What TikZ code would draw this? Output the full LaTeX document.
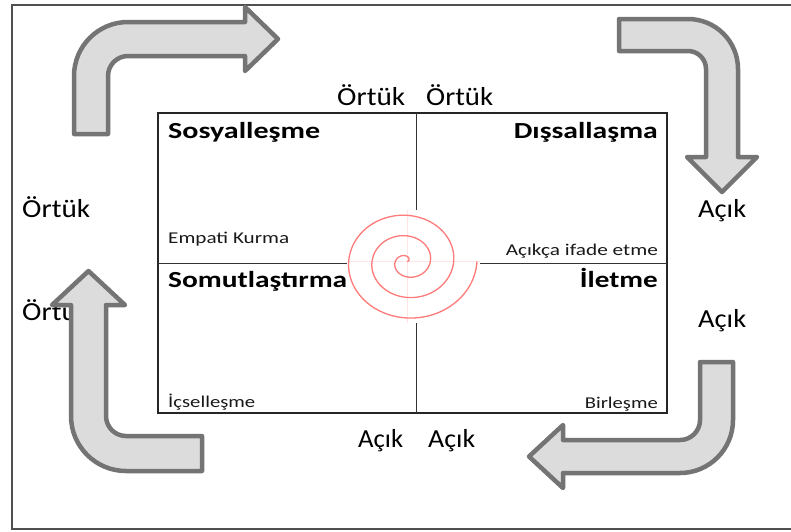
\documentclass[tikz,border=0pt]{standalone}
\usepackage{fontspec}
\usepackage{graphicx}
\setmainfont{Carlito}
\definecolor{framegray}{HTML}{505050}
\definecolor{arrowfill}{HTML}{DCDCDC}
\definecolor{arrowline}{HTML}{747474}
\definecolor{spiralred}{HTML}{FF7A7A}
\definecolor{spiralaxis}{HTML}{FFE6E6}
% stretch a text horizontally to a given width, keeping its height
\newcommand\fitw[2]{\resizebox{#1}{\height}{#2}}
\tikzset{
  bigarrow/.style={fill=arrowfill, draw=arrowline, line width=4.5pt, line join=round},
  sidelabel/.style={inner sep=0pt, anchor=base west, font=\fontsize{26}{30}\selectfont},
  title/.style={inner sep=0pt, font=\fontsize{23}{27}\selectfont\bfseries},
  note/.style={inner sep=0pt, font=\fontsize{16.5}{19}\selectfont, text=black!90},
}
\begin{document}
\begin{tikzpicture}[x=1pt, y=-1pt]
  \useasboundingbox (0,0) rectangle (791,531);
  \fill[white] (0,0) rectangle (791,531);

  % outer frame (left, top and bottom sides)
  \draw[framegray, line width=1.4pt] (791,5) -- (12,5) -- (12,529) -- (791,529);

  % four-quadrant box
  \draw[black!85, line width=1.1pt] (158,113) rectangle (667,413);
  \draw[black!80, line width=1pt] (416,113) -- (416,413);
  \draw[black!80, line width=1pt] (158,263) -- (667,263);

  % spiral with its own light background and axes
  \fill[white] (347,210) rectangle (480,323);
  \draw[spiralaxis, line width=0.8pt] (347,261.5) -- (480,261.5);
  \draw[spiralaxis, line width=0.8pt] (407,210) -- (407,323);
  \draw[spiralred, line width=1.3pt, smooth]
    plot[domain=0:1080, samples=360, variable=\t]
    ({407 + (70/1080)*\t*cos(\t)}, {261.5 - 0.88*(70/1080)*\t*sin(\t)});

  % quadrant titles
  \node[title, anchor=base west] (sos) at (168,138.5) {\fitw{152pt}{Sosyalleşme}};
  \node[title, anchor=base east] (dis) at (658,138.5) {\fitw{144pt}{Dışsallaşma}};
  \node[title, anchor=base west] (som) at (168,287.5) {\fitw{179pt}{Somutlaştırma}};
  \node[title, anchor=base east] (ile) at (658,287.5) {\fitw{78pt}{İletme}};

  % quadrant notes
  \node[note, anchor=base west] (emp) at (168,243) {\fitw{121pt}{Empati Kurma}};
  \node[note, anchor=base east] (aci) at (658,255) {\fitw{152pt}{Açıkça ifade etme}};
  \node[note, anchor=base west] (ics) at (168,407) {\fitw{87pt}{İçselleşme}};
  \node[note, anchor=base east] (bir) at (658,408) {\fitw{73pt}{Birleşme}};

  % side labels
  \node[sidelabel] (ot1) at (337,105) {\fitw{68pt}{Örtük}};
  \node[sidelabel] (ot2) at (426,105) {\fitw{67pt}{Örtük}};
  \node[sidelabel] (ol1) at (22,217) {\fitw{68pt}{Örtük}};
  \node[sidelabel] (ol2) at (22,320) {\fitw{68pt}{Örtük}};
  \node[sidelabel] (ar1) at (698,217) {\fitw{48pt}{Açık}};
  \node[sidelabel] (ar2) at (698,327) {\fitw{48pt}{Açık}};
  \node[sidelabel] (ab1) at (358,447) {\fitw{45pt}{Açık}};
  \node[sidelabel] (ab2) at (428,447) {\fitw{47pt}{Açık}};

  % bent arrows around the box
  % top left: up, then right
  \draw[bigarrow] (74,134) -- (74,76) arc[start angle=180, end angle=90, radius=54pt]
    -- (245,22) -- (245,7) -- (278,39) -- (245,71) -- (245,56) -- (128,56)
    arc[start angle=90, end angle=180, radius=20pt] -- (108,134) -- cycle;
  % top right: right, then down
  \draw[bigarrow] (619,19) -- (688,19) arc[start angle=90, end angle=0, radius=50pt]
    -- (738,157) -- (757,157) -- (722,192) -- (687,157) -- (706,157) -- (706,69)
    arc[start angle=0, end angle=90, radius=18pt] -- (619,51) -- cycle;
  % bottom right: down, then left
  \draw[bigarrow] (733,362) -- (733,420) arc[start angle=0, end angle=-90, radius=53pt]
    -- (563,473) -- (563,488) -- (529,456.5) -- (563,425) -- (563,440) -- (680,440)
    arc[start angle=-90, end angle=0, radius=20pt] -- (700,362) -- cycle;
  % bottom left: left, then up
  \draw[bigarrow] (202,471) -- (126,471) arc[start angle=-90, end angle=-180, radius=55pt]
    -- (71,305) -- (52,305) -- (88.5,271) -- (125,305) -- (106,305) -- (106,416)
    arc[start angle=180, end angle=270, radius=20pt] -- (202,436) -- cycle;
\end{tikzpicture}
\end{document}
